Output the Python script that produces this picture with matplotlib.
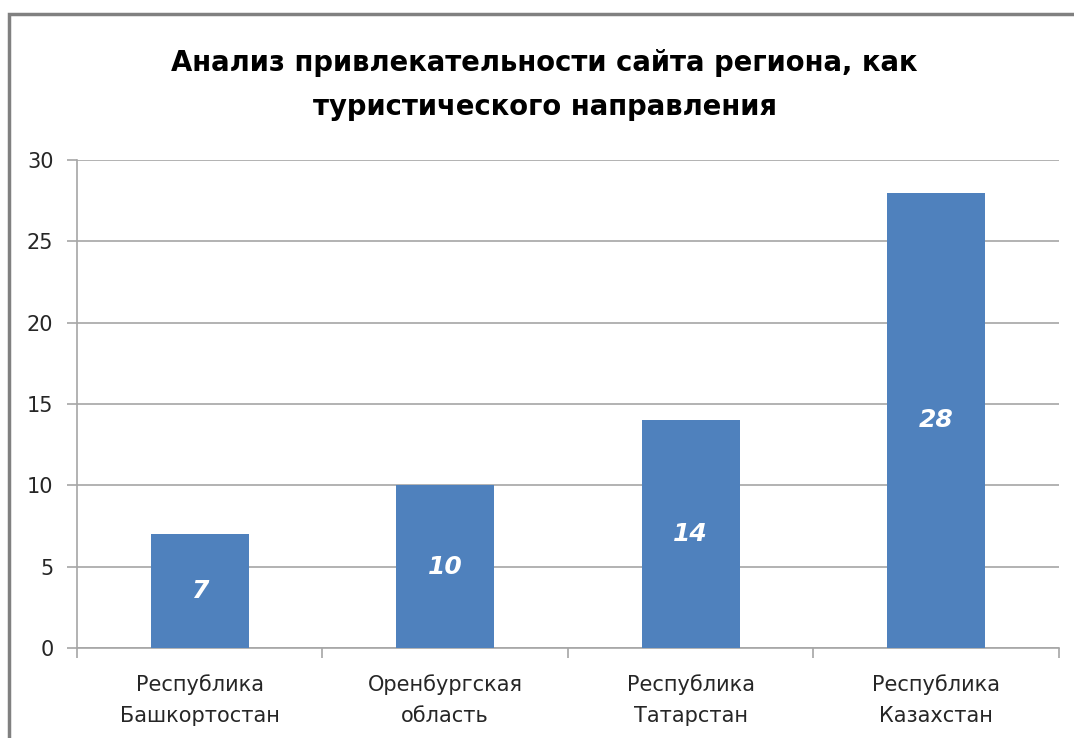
import matplotlib.pyplot as plt
from matplotlib.patches import Rectangle

# data
regions = ['Республика\nБашкортостан', 'Оренбургская\nобласть', 'Республика\nТатарстан', 'Республика\nКазахстан']
values = [7, 10, 14, 28]
y_ticks = [0, 5, 10, 15, 20, 25, 30]
title = 'Анализ привлекательности сайта региона, как\nтуристического направления'

bar_color = '#4F81BD'
grid_color = '#A6A6A6'

fig = plt.figure(figsize=(10.74, 7.38), dpi=100)
ax = fig.add_axes([0.0717, 0.122, 0.9143, 0.661])

x = list(range(len(regions)))
bars = ax.bar(x, values, width=0.4, color=bar_color, zorder=3)

# value labels inside bars
for xi, v in zip(x, values):
    ax.text(xi, v / 2, str(v), ha='center', va='center', color='white',
            fontsize=18, fontweight='bold', fontstyle='italic', zorder=4)

ax.set_xlim(-0.5, len(regions) - 0.5)
ax.set_ylim(0, 30)
ax.set_yticks(y_ticks)
ax.set_yticklabels([str(t) for t in y_ticks], fontsize=15, color='#262626')
ax.yaxis.grid(True, color=grid_color, linewidth=1.2, zorder=0)
ax.tick_params(axis='y', length=7, color=grid_color, width=1.2, pad=10)

# category ticks sit at the boundaries between bars
ax.set_xticks([i - 0.5 for i in range(len(regions) + 1)], minor=False)
ax.set_xticklabels([])
ax.set_xticks(x, minor=True)
ax.set_xticklabels(regions, minor=True, fontsize=15, color='#262626', linespacing=1.7)
ax.tick_params(axis='x', which='minor', length=0, pad=19)
ax.tick_params(axis='x', which='major', length=7, color=grid_color, width=1.2)

for side in ['top', 'right']:
    ax.spines[side].set_visible(False)
for side in ['left', 'bottom']:
    ax.spines[side].set_color(grid_color)
    ax.spines[side].set_linewidth(1.2)

fig.text(0.507, 0.885, title, ha='center', va='center', fontsize=19.8,
         fontweight='bold', color='black', linespacing=1.75)

# outer chart border, running off the right and bottom edges
fig.patches.append(Rectangle((9 / 1074, -0.05), 1.1, 0.95 - (-0.05) + 0.031,
                             transform=fig.transFigure, fill=False,
                             edgecolor='#808080', linewidth=2.5))

fig.savefig('out.png', dpi=100)
